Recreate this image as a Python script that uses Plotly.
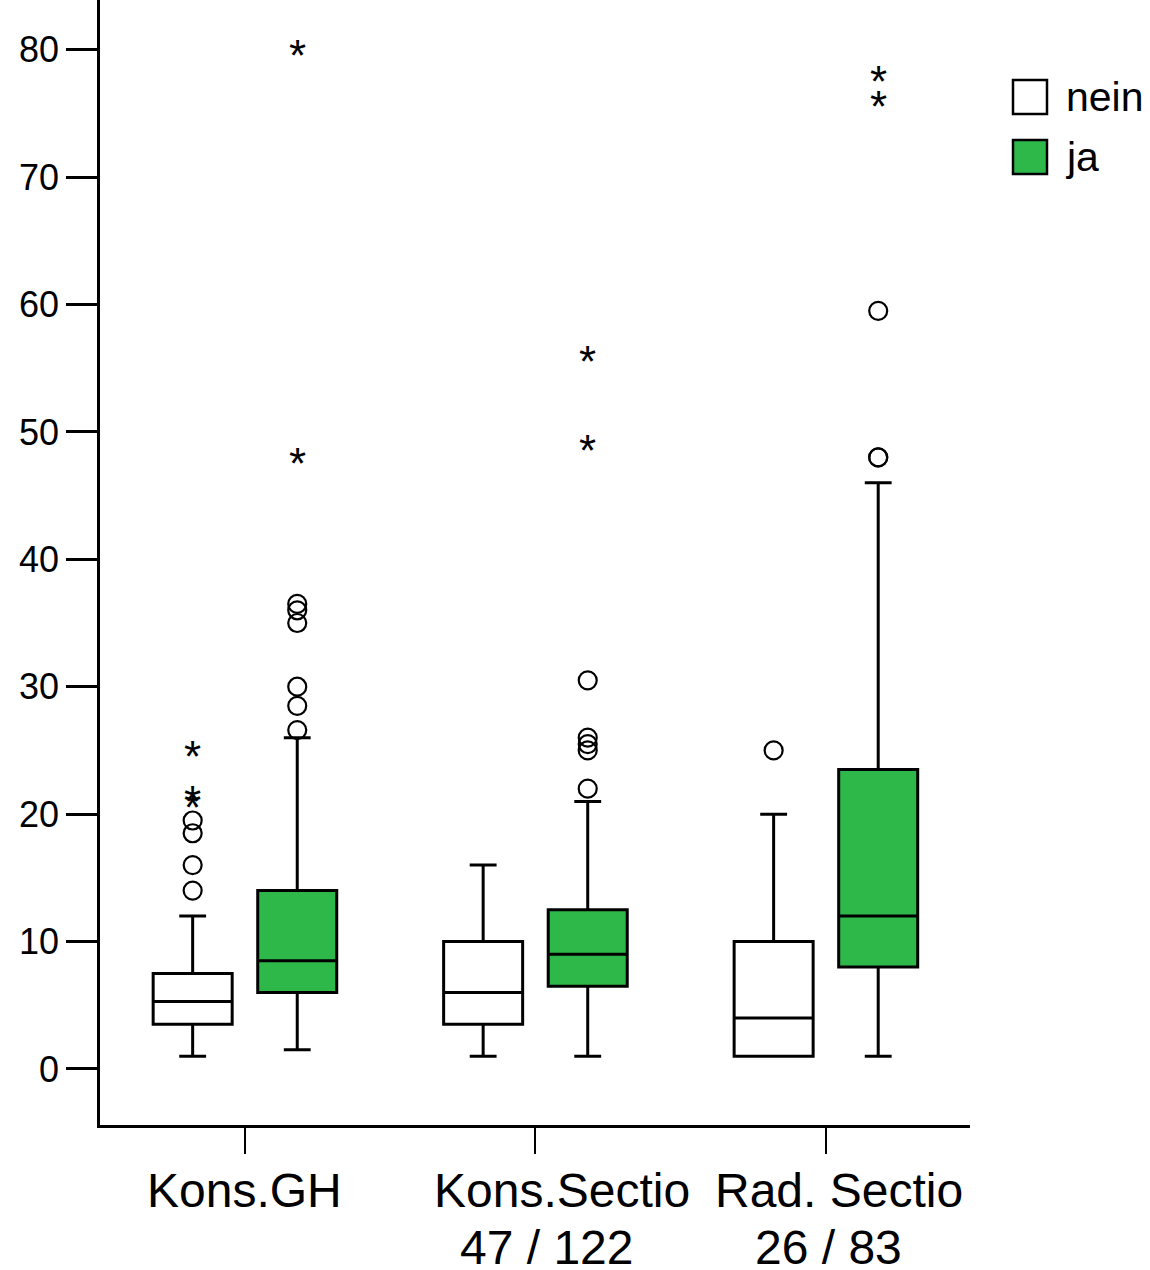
import plotly.graph_objects as go

# ---------------- data ----------------
categories = ["Kons.GH", "Kons.Sectio", "Rad. Sectio"]
sublabels = ["", "47 / 122", "26 / 83"]
groups = ["nein", "ja"]

# box statistics per category (nein, ja)
nein_q1 = [3.5, 3.5, 1.0]
nein_median = [5.3, 6.0, 4.0]
nein_q3 = [7.5, 10.0, 10.0]
nein_low = [1.0, 1.0, 1.0]
nein_high = [12.0, 16.0, 20.0]

ja_q1 = [6.0, 6.5, 8.0]
ja_median = [8.5, 9.0, 12.0]
ja_q3 = [14.0, 12.5, 23.5]
ja_low = [1.5, 1.0, 1.0]
ja_high = [26.0, 21.0, 46.0]

# outliers (circles) and extreme values (asterisks)
nein_out = [[14.0, 16.0, 18.5, 19.5], [], [25.0]]
nein_ext = [[21.0, 21.5, 25.0], [], []]
ja_out = [[26.6, 28.5, 30.0, 35.0, 36.0, 36.5], [22.0, 25.0, 25.5, 26.0, 30.5], [48.0, 48.0, 59.5]]
ja_ext = [[48.0, 80.0], [49.0, 56.0], [76.0, 78.0]]

y_ticks = [0, 10, 20, 30, 40, 50, 60, 70, 80]

# ---------------- style ----------------
GREEN = "#2fb84a"
FILL = {"nein": "#ffffff", "ja": GREEN}
OFFSET = {"nein": -0.18, "ja": 0.18}
BOXW = 0.272
FONT = "Liberation Sans, Arial, sans-serif"

stats = {
    "nein": (nein_q1, nein_median, nein_q3, nein_low, nein_high, nein_out, nein_ext),
    "ja": (ja_q1, ja_median, ja_q3, ja_low, ja_high, ja_out, ja_ext),
}

fig = go.Figure()
annotations = []
for g in groups:
    q1, med, q3, lo, hi, outs, exts = stats[g]
    for i, cat in enumerate(categories):
        x = i + 1 + OFFSET[g]
        fig.add_trace(go.Box(
            x=[x], q1=[q1[i]], median=[med[i]], q3=[q3[i]],
            lowerfence=[lo[i]], upperfence=[hi[i]],
            width=BOXW, whiskerwidth=0.34, boxpoints=False,
            fillcolor=FILL[g], line=dict(color="black", width=3),
            showlegend=False, hoverinfo="skip",
        ))
        if outs[i]:
            fig.add_trace(go.Scatter(
                x=[x] * len(outs[i]), y=outs[i], mode="markers",
                marker=dict(symbol="circle-open", size=18, color="black",
                            line=dict(width=2.2, color="black")),
                showlegend=False, hoverinfo="skip",
            ))
        for v in exts[i]:
            annotations.append(dict(
                x=x, y=v, xref="x", yref="y", text="*", showarrow=False,
                xanchor="center", yanchor="middle", yshift=-6,
                font=dict(family=FONT, size=44, color="black")))

# category labels
label_x = [1.0, 2.09, 3.045]
sub_x = [1.0, 2.038, 3.01]
for i, cat in enumerate(categories):
    annotations.append(dict(x=label_x[i], y=-0.0578, xref="x", yref="paper",
                            text=cat, showarrow=False, yanchor="middle", xanchor="center",
                            font=dict(family=FONT, size=48, color="black")))
    if sublabels[i]:
        annotations.append(dict(x=sub_x[i], y=-0.109, xref="x", yref="paper",
                                text=sublabels[i], showarrow=False, yanchor="middle", xanchor="center",
                                font=dict(family=FONT, size=48, color="black")))

# legend (drawn manually)
shapes = []
PW, PH = 870.0, 1125.0
def px(xp):
    return (xp - 100) / PW
def py(yp):
    return (1125 - yp) / PH
legend_rows = [(97, "nein"), (157, "ja")]
for yc, g in legend_rows:
    shapes.append(dict(type="rect", xref="paper", yref="paper",
                       x0=px(1013), x1=px(1047), y0=py(yc + 17), y1=py(yc - 17),
                       fillcolor=FILL[g], line=dict(color="black", width=2.5)))
    annotations.append(dict(x=px(1064), y=py(yc), xref="paper", yref="paper",
                            text=g, showarrow=False, xanchor="left", yanchor="middle",
                            font=dict(family=FONT, size=41, color="black")))

fig.update_layout(
    width=1150, height=1270,
    margin=dict(l=100, r=180, t=0, b=145),
    paper_bgcolor="white", plot_bgcolor="white",
    showlegend=False,
    annotations=annotations, shapes=shapes,
    xaxis=dict(range=[0.501, 3.496], showgrid=False, zeroline=False,
               showline=True, linecolor="black", linewidth=2.5,
               tickmode="array", tickvals=[1, 2, 3], ticktext=["", "", ""],
               ticks="outside", ticklen=26, tickwidth=2, tickcolor="black"),
    yaxis=dict(range=[-4.4, 83.9], showgrid=False, zeroline=False,
               showline=True, linecolor="black", linewidth=2.5,
               tickmode="array", tickvals=y_ticks,
               ticks="outside", ticklen=31, tickwidth=2.5, tickcolor="black",
               ticklabelstandoff=0,
               tickfont=dict(family=FONT, size=36, color="black")),
)

fig.write_html("out.html", config={"displayModeBar": False},
               post_script="document.body.style.margin='0';")
